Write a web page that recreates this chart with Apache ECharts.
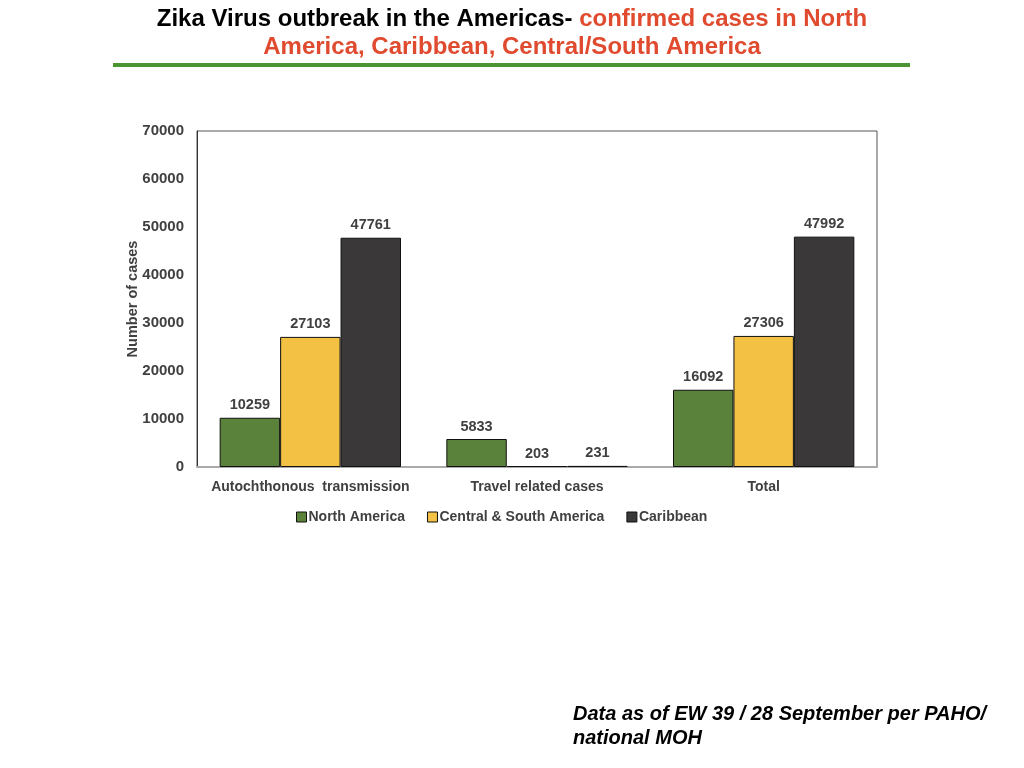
<!DOCTYPE html>
<html>
<head>
<meta charset="utf-8">
<script src="https://cdn.jsdelivr.net/npm/echarts@6/dist/echarts.min.js"></script>
<style>
html,body{margin:0;padding:0;background:#fff;}
#chart{width:1024px;height:768px;}
</style>
</head>
<body>
<div id="chart"></div>
<script>
var categories = ['Autochthonous  transmission', 'Travel related cases', 'Total'];
var northAmerica = [10259, 5833, 16092];
var centralSouthAmerica = [27103, 203, 27306];
var caribbean = [47761, 231, 47992];
var seriesNames = ['North America', 'Central & South America', 'Caribbean'];
var yTicks = [0, 10000, 20000, 30000, 40000, 50000, 60000, 70000];

var font = 'Liberation Sans, Arial, sans-serif';
var chart = echarts.init(document.getElementById('chart'));
var labelStyle = {show: true, position: 'top', distance: 5, fontFamily: font, fontWeight: 'bold', fontSize: 14.5, color: '#404040'};
function mk(name, data, color) {
  return {
    name: name, type: 'bar', data: data, barGap: '0%', barCategoryGap: '20%',
    itemStyle: {color: color, borderColor: '#111', borderWidth: 1},
    label: labelStyle
  };
}
chart.setOption({
  animation: false,
  title: {
    text: '{a|Zika Virus outbreak in the Americas-} {b|confirmed cases in North}\n{b|America, Caribbean, Central/South America}',
    left: 'center', top: 0,
    textStyle: {
      fontFamily: font, fontSize: 24, fontWeight: 'bold', lineHeight: 28,
      rich: {
        a: {color: '#000', fontFamily: font, fontSize: 24, fontWeight: 'bold', lineHeight: 28},
        b: {color: '#e04a2e', fontFamily: font, fontSize: 24, fontWeight: 'bold', lineHeight: 28}
      }
    }
  },
  graphic: [
    {type: 'rect', shape: {x: 113, y: 63, width: 797, height: 4}, style: {fill: '#4a9432'}},
    {type: 'text', left: 573, top: 702, style: {text: 'Data as of EW 39 / 28 September per PAHO/\nnational MOH', fontFamily: font, fontSize: 20, fontWeight: 'bold', fontStyle: 'italic', fill: '#000', lineHeight: 24}}
  ],
  legend: {
    data: seriesNames, left: 291, top: 505, itemWidth: 10, itemHeight: 10, itemGap: 22,
    icon: 'rect',
    itemStyle: {borderColor: '#111', borderWidth: 1},
    textStyle: {fontFamily: font, fontWeight: 'bold', fontSize: 14, color: '#404040', padding: [0, 0, 0, -3]}
  },
  grid: {left: 197, right: 147, top: 131, bottom: 301, show: true, borderColor: '#555', borderWidth: 1},
  xAxis: {
    type: 'category', data: categories,
    axisLine: {lineStyle: {color: '#aaa', width: 2}},
    axisTick: {show: false},
    axisLabel: {interval: 0, fontFamily: font, fontWeight: 'bold', fontSize: 14, color: '#404040', margin: 13}
  },
  yAxis: {
    type: 'value', min: 0, max: 70000, interval: 10000,
    name: 'Number of cases', nameLocation: 'middle', nameGap: 57, nameMoveOverlap: false,
    nameTextStyle: {fontFamily: font, fontWeight: 'bold', fontSize: 14.5, color: '#404040'},
    axisLine: {show: true, lineStyle: {color: '#333', width: 1}},
    axisTick: {show: false},
    splitLine: {show: false},
    axisLabel: {fontFamily: font, fontWeight: 'bold', fontSize: 15, color: '#404040', margin: 13,
      formatter: function (v) { return yTicks.indexOf(v) >= 0 ? String(v) : ''; }}
  },
  series: [
    mk(seriesNames[0], northAmerica, '#5b823b'),
    mk(seriesNames[1], centralSouthAmerica, '#f3c244'),
    mk(seriesNames[2], caribbean, '#3a3839')
  ]
});
</script>
</body>
</html>
